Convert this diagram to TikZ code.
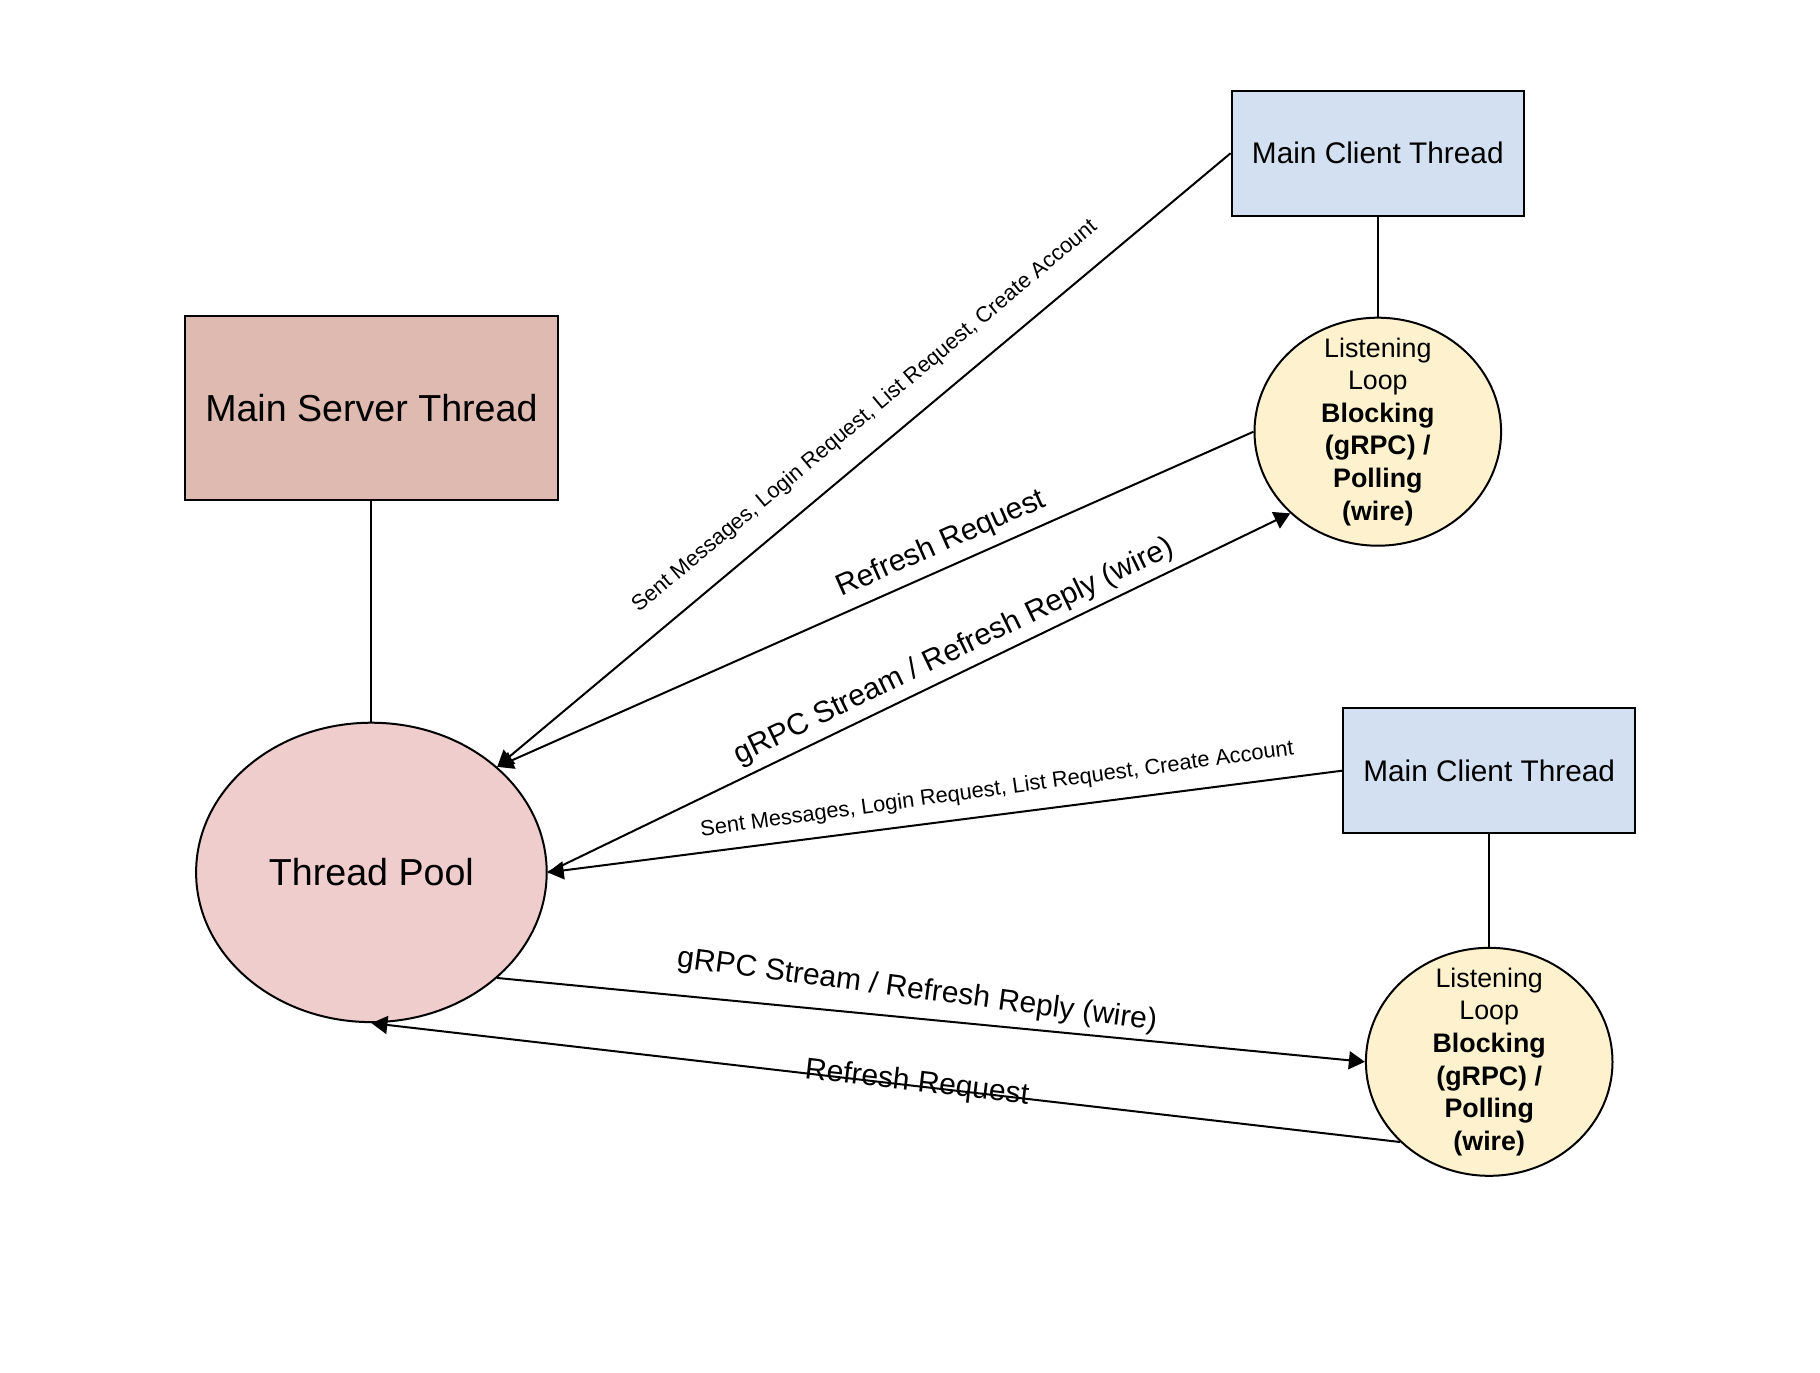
\documentclass[tikz,border=0pt]{standalone}
\usepackage{fontspec}
\setmainfont{Liberation Sans}
\usetikzlibrary{positioning,shapes.geometric,arrows.meta}
\definecolor{serverred}{HTML}{DEBAB0}
\definecolor{poolred}{HTML}{EFCDCD}
\definecolor{clientblue}{HTML}{D3E0F1}
\definecolor{loopyellow}{HTML}{FEF2CE}

\begin{document}
\begin{tikzpicture}[x=0.5pt, y=-0.5pt, line width=1pt,
	box/.style={draw, rectangle, inner sep=0pt},
	blob/.style={draw, ellipse, inner sep=0pt},
	server/.style={box, fill=serverred, minimum width=186.8pt, minimum height=92.3pt, font=\fontsize{18.8}{22}\selectfont},
	pool/.style={blob, fill=poolred, minimum width=175.3pt, minimum height=149.7pt, font=\fontsize{18.8}{22}\selectfont},
	client/.style={box, fill=clientblue, minimum width=146.2pt, minimum height=62.7pt, font=\fontsize{14.9}{18}\selectfont},
	listener/.style={blob, fill=loopyellow, minimum width=123.3pt, minimum height=114pt,
		label={[align=center, font=\fontsize{13.4}{16.3}\selectfont]center:{#1}}},
	msg/.style={-{Triangle[length=8pt,width=9pt]}},
	biglabel/.style={font=\fontsize{15}{18}\selectfont, sloped},
	smalllabel/.style={font=\fontsize{10.9}{13}\selectfont, sloped}
]
	\useasboundingbox (0,0) rectangle (1820,1372);

	\node [server] (mst) at (371.4,408) {Main Server Thread};
	\node [pool, below=110.2pt of mst] (tp) {Thread Pool};

	\node [client] (mct1) at (1377.8,153.2) {Main Client Thread};
	\node [listener={Listening\\Loop\\\textbf{Blocking}\\\textbf{(gRPC) /}\\\textbf{Polling}\\\textbf{(wire)}}, below=49.9pt of mct1] (ll1) {};
	\node [client] (mct2) at (1489.2,770.7) {Main Client Thread};
	\node [listener={Listening\\Loop\\\textbf{Blocking}\\\textbf{(gRPC) /}\\\textbf{Polling}\\\textbf{(wire)}}, below=56.2pt of mct2] (ll2) {};

	\draw (mst) -- (tp);
	\draw (mct1) -- (ll1);
	\draw (mct2) -- (ll2);

	\draw [msg] (mct1.west) -- node [smalllabel, above=7.5pt, pos=0.47] {Sent Messages, Login Request, List Request, Create Account} (tp.40);
	\draw [msg] (ll1.west) -- node [biglabel, above=1pt, pos=0.4] {Refresh Request} (tp.40);
	\draw [msg] (tp.east) -- node [biglabel, above, pos=0.56] {gRPC Stream / Refresh Reply (wire)} (ll1.223);
	\draw [msg] (mct2.west) -- node [smalllabel, above=3.5pt, pos=0.43, rotate=0.5] {Sent Messages, Login Request, List Request, Create Account} (tp.east);
	\draw [msg] (tp.-40) -- node [biglabel, above=3pt, pos=0.48, rotate=-2] {gRPC Stream / Refresh Reply (wire)} (ll2.west);
	\draw [msg] (ll2.222) -- node [biglabel, above=-9.5pt, pos=0.47] {Refresh Request} (tp.south);
\end{tikzpicture}
\end{document}
